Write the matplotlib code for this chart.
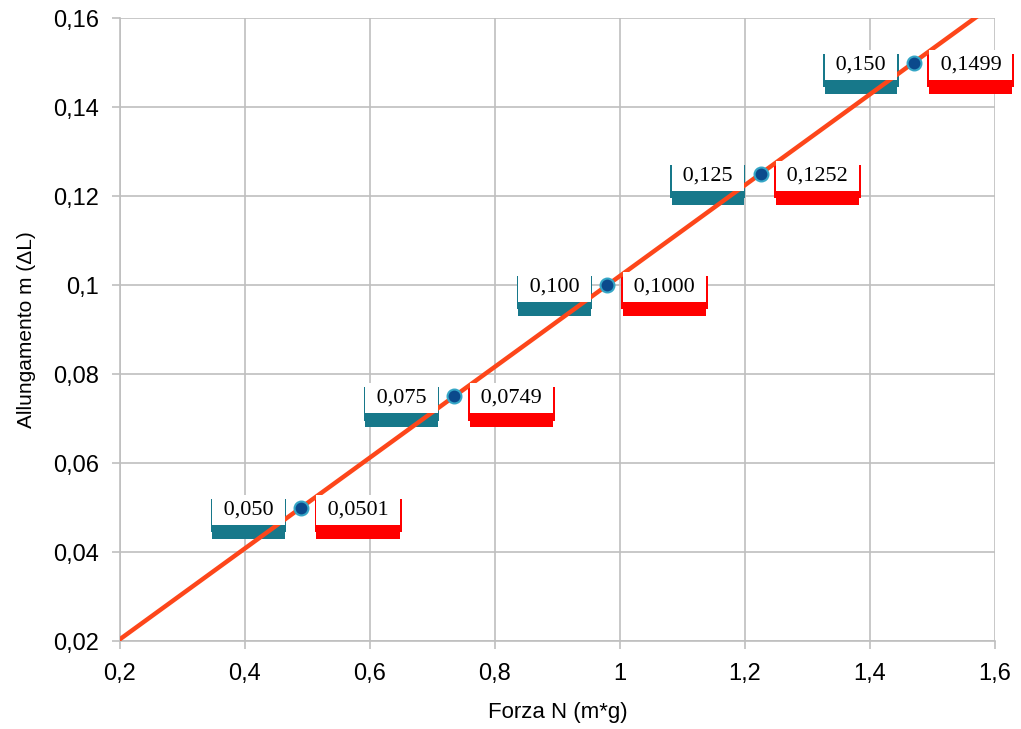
import numpy as np
from matplotlib import pyplot as plt
from matplotlib.ticker import FixedLocator

# data
forza = [0.49, 0.735, 0.98, 1.225, 1.47]
allungamento = [0.050, 0.075, 0.100, 0.125, 0.150]
label_left = ["0,050", "0,075", "0,100", "0,125", "0,150"]
label_right = ["0,0501", "0,0749", "0,1000", "0,1252", "0,1499"]

xticks = [0.2, 0.4, 0.6, 0.8, 1.0, 1.2, 1.4, 1.6]
xticklabels = ["0,2", "0,4", "0,6", "0,8", "1", "1,2", "1,4", "1,6"]
yticks = [0.02, 0.04, 0.06, 0.08, 0.10, 0.12, 0.14, 0.16]
yticklabels = ["0,02", "0,04", "0,06", "0,08", "0,1", "0,12", "0,14", "0,16"]

plt.rcParams['font.family'] = ['Liberation Sans', 'DejaVu Sans']

fig = plt.figure(figsize=(10.21, 7.29), dpi=100)
ax = fig.add_axes([0.1175, 0.1207, 0.857, 0.8546])

gridColor = "#bfbfbf"
ax.set_xlim(0.2, 1.6)
ax.set_ylim(0.02, 0.16)
ax.xaxis.set_major_locator(FixedLocator(xticks))
ax.yaxis.set_major_locator(FixedLocator(yticks))
ax.set_xticklabels(xticklabels, fontsize=17)
ax.set_yticklabels(yticklabels, fontsize=17)
ax.grid(True, color=gridColor, linewidth=1.2, zorder=0)
ax.set_axisbelow(True)
for side in ["top", "right"]:
    ax.spines[side].set_visible(False)
for side in ["left", "bottom"]:
    ax.spines[side].set_color(gridColor)
    ax.spines[side].set_linewidth(1.2)
ax.tick_params(color=gridColor, length=6, width=1.2)
ax.tick_params(axis="x", pad=10)
ax.tick_params(axis="y", pad=9)
ax.set_xlabel("Forza N (m*g)", fontsize=16, labelpad=12)
ax.set_ylabel("Allungamento m (ΔL)", fontsize=15, labelpad=12)

# linear trend line through the points
coef = np.polyfit(forza, allungamento, 1)
xs = np.array([0.2, 1.6])
ax.plot(xs, np.polyval(coef, xs), color="#fd461a", linewidth=3.2, zorder=3)

ax.plot(forza, allungamento, "o", markersize=10, markerfacecolor="#0b4a8c",
        markeredgecolor="#35a6c6", markeredgewidth=1.5, zorder=6)

serif = ['Liberation Serif', 'DejaVu Serif']


def boxLabel(x, y, txt, dx, ha, shadowColor):
    txt = " " + txt + " "
    # soft colour shadow below a white box
    for off, pad, alpha in [(-4.0, 0.32, 0.12), (-10.0, 0.25, 0.3), (-7.5, 0.25, 1.0)]:
        ax.annotate(txt, (x, y), xytext=(dx, off - 1.5), textcoords="offset points",
                    ha=ha, va="center", fontsize=16, family=serif, color=shadowColor,
                    alpha=alpha, zorder=2, annotation_clip=False,
                    bbox=dict(boxstyle="square,pad=%.2f" % pad, facecolor=shadowColor,
                              edgecolor="none"))
    ax.annotate(txt, (x, y), xytext=(dx, -1.5), textcoords="offset points",
                ha=ha, va="center", fontsize=16, family=serif, color="black",
                zorder=4, annotation_clip=False,
                bbox=dict(boxstyle="square,pad=0.25", facecolor="white", edgecolor="none"))


for i in range(len(forza)):
    boxLabel(forza[i], allungamento[i], label_left[i], -16, "right", "#17788a")
    boxLabel(forza[i], allungamento[i], label_right[i], 15, "left", "#ff0000")

fig.savefig("out.png", dpi=100)
